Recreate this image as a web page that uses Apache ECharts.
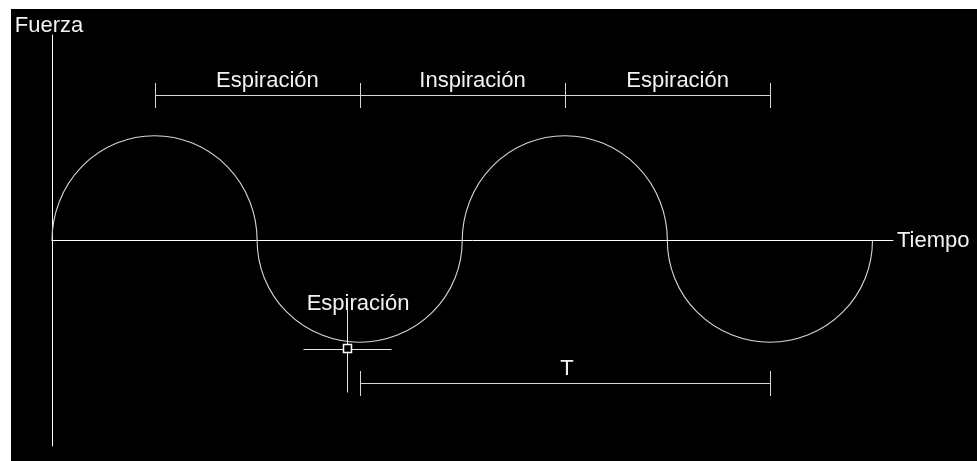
<!DOCTYPE html>
<html>
<head>
<meta charset="utf-8">
<script src="https://cdn.jsdelivr.net/npm/echarts@6/dist/echarts.min.js"></script>
<style>
  html, body { margin: 0; padding: 0; background: #ffffff; }
  #container { position: absolute; left: 11px; top: 9px; width: 966px; height: 452px; background: #000000; }
</style>
</head>
<body>
<div id="container"></div>
<script>
// half-waves (semicircles), x in half-periods
var waveStart = [0, 1, 2, 3];
var waveEnd = [1, 2, 3, 4];
var waveAmp = [1.02, -0.99, 1.02, -0.99];

// dimension lines
var dimNames = ['Espiración', 'Inspiración', 'Espiración', 'T'];
var dimStart = [0.5, 1.5, 2.5, 1.5];
var dimEnd = [1.5, 2.5, 3.5, 3.5];
var dimLevel = [1.42, 1.42, 1.42, -1.39];
var dimLabelX = [1.05, 2.05, 3.05, 2.51];

// cursor and its label
var cursorPos = [1.438, -1.045];
var noteText = ['Espiración'];
var notePos = [[1.492, -0.615]];

var FONT = '22px "Liberation Sans", Arial, sans-serif';
var TEXT_COLOR = '#f2f2f2';
var LINE_COLOR = '#d6d6d6';

var dom = document.getElementById('container');
var myChart = echarts.init(dom, null, { renderer: 'canvas' });

var waveData = waveStart.map(function (s, i) { return [s, waveEnd[i], waveAmp[i]]; });
var dimData = dimNames.map(function (n, i) {
  return [dimStart[i], dimEnd[i], dimLevel[i], dimLabelX[i], n];
});
var noteData = noteText.map(function (t, i) { return [notePos[i][0], notePos[i][1], t]; });

var option = {
  backgroundColor: '#000000',
  animation: false,
  grid: { left: 41, top: 26, width: 841, height: 411 },
  xAxis: {
    type: 'value', min: 0, max: 4.1,
    axisLine: { lineStyle: { color: '#ffffff', width: 1 } },
    axisTick: { show: false }, axisLabel: { show: false }, splitLine: { show: false },
    name: 'Tiempo', nameLocation: 'end', nameGap: 4,
    nameTextStyle: { color: TEXT_COLOR, fontSize: 22, fontFamily: 'Liberation Sans', padding: [0, 0, 8, 0] }
  },
  yAxis: {
    type: 'value', min: -2, max: 2,
    axisLine: { show: true, lineStyle: { color: '#ffffff', width: 1 } },
    axisTick: { show: false }, axisLabel: { show: false }, splitLine: { show: false },
    name: 'Fuerza', nameLocation: 'end', nameGap: -2,
    nameTextStyle: { color: TEXT_COLOR, fontSize: 22, fontFamily: 'Liberation Sans', padding: [0, 6, 0, 0] }
  },
  series: [
    {
      type: 'custom', silent: true,
      encode: { x: [0, 1], y: 2 },
      data: waveData,
      renderItem: function (params, api) {
        var p0 = api.coord([api.value(0), 0]);
        var p1 = api.coord([api.value(1), 0]);
        var amp = api.value(2);
        var cx = (p0[0] + p1[0]) / 2;
        var cy = p0[1];
        var r = (p1[0] - p0[0]) / 2;
        var ry = api.size([0, Math.abs(amp)])[1];
        var up = amp > 0;
        return {
          type: 'arc',
          shape: {
            cx: cx, cy: cy, r: r,
            startAngle: up ? Math.PI : 0,
            endAngle: up ? Math.PI * 2 : Math.PI,
            clockwise: true
          },
          originX: cx, originY: cy, scaleY: ry / r,
          style: { fill: null, stroke: LINE_COLOR, lineWidth: 1.1 }
        };
      }
    },
    {
      type: 'custom', silent: true,
      encode: { x: [0, 1], y: 2 },
      data: dimData,
      renderItem: function (params, api) {
        var a = api.coord([api.value(0), api.value(2)]);
        var b = api.coord([api.value(1), api.value(2)]);
        var lx = api.coord([api.value(3), api.value(2)])[0];
        var y = Math.round(a[1]) + 0.5;
        var ax = Math.round(a[0]) + 0.5, bx = Math.round(b[0]) + 0.5;
        var h = 12.5;
        var ls = { stroke: LINE_COLOR, lineWidth: 1 };
        return {
          type: 'group',
          children: [
            { type: 'line', shape: { x1: ax, y1: y, x2: bx, y2: y }, style: ls },
            { type: 'line', shape: { x1: ax, y1: y - h, x2: ax, y2: y + h }, style: ls },
            { type: 'line', shape: { x1: bx, y1: y - h, x2: bx, y2: y + h }, style: ls },
            {
              type: 'text', x: lx, y: y - 14.5,
              style: { text: api.value(4), fill: TEXT_COLOR, font: FONT, align: 'center', verticalAlign: 'middle' }
            }
          ]
        };
      }
    },
    {
      type: 'custom', silent: true,
      data: noteData,
      renderItem: function (params, api) {
        var p = api.coord([api.value(0), api.value(1)]);
        return {
          type: 'text', x: p[0], y: p[1],
          style: { text: api.value(2), fill: TEXT_COLOR, font: FONT, align: 'center', verticalAlign: 'middle' }
        };
      }
    },
    {
      type: 'custom', silent: true,
      data: [cursorPos],
      renderItem: function (params, api) {
        var p = api.coord([api.value(0), api.value(1)]);
        var x = Math.round(p[0]) + 0.5, y = Math.round(p[1]) + 0.5;
        var ls = { stroke: '#e8e8e8', lineWidth: 1 };
        return {
          type: 'group',
          children: [
            { type: 'line', shape: { x1: x - 44, y1: y + 1, x2: x - 4, y2: y + 1 }, style: ls },
            { type: 'line', shape: { x1: x + 4, y1: y + 1, x2: x + 44, y2: y + 1 }, style: ls },
            { type: 'line', shape: { x1: x, y1: y - 45, x2: x, y2: y - 4 }, style: ls },
            { type: 'line', shape: { x1: x, y1: y + 4, x2: x, y2: y + 44 }, style: ls },
            { type: 'rect', shape: { x: x - 4, y: y - 4, width: 8, height: 8 }, style: { fill: null, stroke: '#ffffff', lineWidth: 1.5 } }
          ]
        };
      }
    }
  ]
};

if (option && typeof option === 'object') {
  myChart.setOption(option);
}
</script>
</body>
</html>
